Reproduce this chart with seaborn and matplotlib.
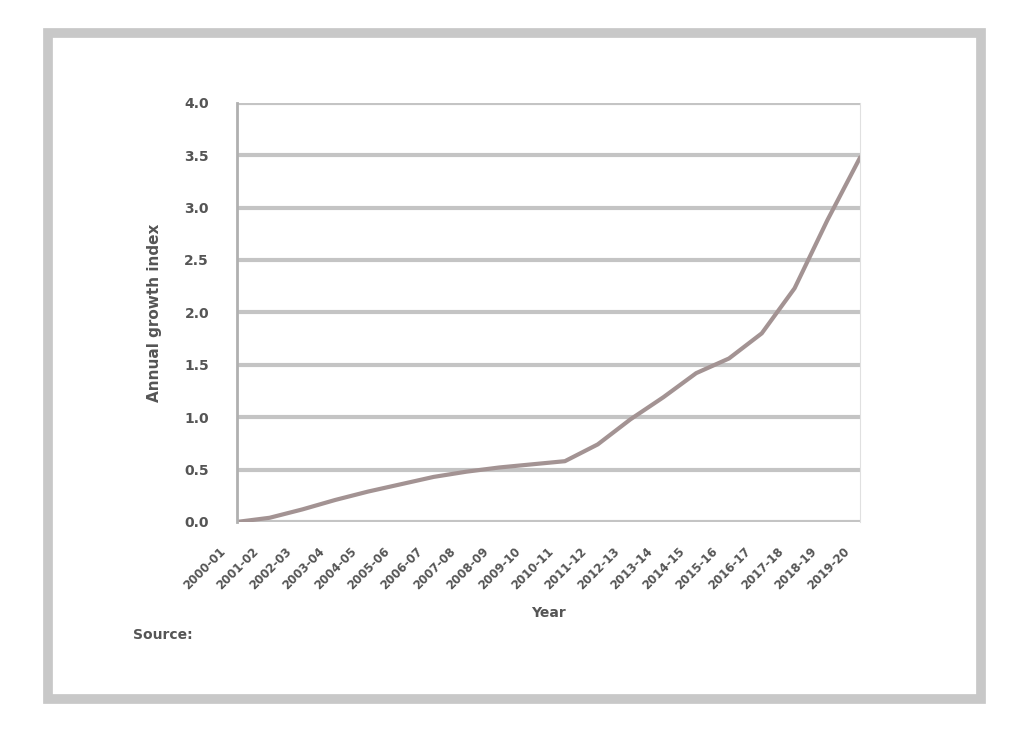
import numpy as np
import pandas as pd
import matplotlib
matplotlib.use("Agg")
from matplotlib import pyplot as plt
from matplotlib import transforms
import seaborn as sns

# data
years = [f"{y}-{(y + 1) % 100:02d}" for y in range(2000, 2020)]
values = [0.0, 0.04, 0.12, 0.21, 0.29, 0.36, 0.43, 0.48, 0.52, 0.55,
          0.58, 0.74, 0.98, 1.19, 1.42, 1.56, 1.80, 2.23, 2.88, 3.48]
y_ticks = [0.0, 0.5, 1.0, 1.5, 2.0, 2.5, 3.0, 3.5, 4.0]

df = pd.DataFrame({"Year": years, "Value": values})

sns.set_style("white")
plt.rcParams["font.family"] = ["DejaVu Sans"]

fig = plt.figure(figsize=(10.12, 7.29), dpi=100)
ax = fig.add_axes([0.234, 0.284, 0.616, 0.575])

sns.lineplot(data=df, x="Year", y="Value", ax=ax, color="#a39393",
             linewidth=3, sort=False)

ax.set_ylim(0, 4.0)
ax.set_xlim(0, len(years) - 1)
ax.set_yticks(y_ticks)
ax.set_yticklabels([f"{t:.1f}" for t in y_ticks], fontweight="bold")
ax.yaxis.grid(True, color="#c4c4c4", linewidth=3)
ax.set_axisbelow(True)

ax.tick_params(axis="x", labelsize=8.5, colors="#555555", length=0, pad=20)
ax.tick_params(axis="y", labelsize=10, colors="#555555", length=0, pad=20)
shift = transforms.ScaledTranslation(-0.13, 0, fig.dpi_scale_trans)
for lab in ax.get_xticklabels():
    lab.set_rotation(45)
    lab.set_ha("right")
    lab.set_va("center")
    lab.set_rotation_mode("anchor")
    lab.set_fontweight("bold")
    lab.set_transform(lab.get_transform() + shift)

ax.spines["left"].set_color("#b0b0b0")
ax.spines["left"].set_linewidth(2)
ax.spines["right"].set_color("#e0e0e0")
ax.spines["top"].set_visible(False)
ax.spines["bottom"].set_visible(False)

ax.set_xlabel("Year", fontsize=10, color="#555555", fontweight="bold", labelpad=10)
ax.set_ylabel("Annual growth index", fontsize=11, color="#555555", fontweight="bold",
              labelpad=16)

fig.text(0.131, 0.124, "Source:", fontsize=10, color="#555555", fontweight="bold")

# outer frame
fig.patches.append(plt.Rectangle((0.047, 0.041), 0.922, 0.914, transform=fig.transFigure,
                                 fill=False, edgecolor="#c8c8c8", linewidth=7))

fig.savefig("out.png", dpi=100, facecolor="white")
